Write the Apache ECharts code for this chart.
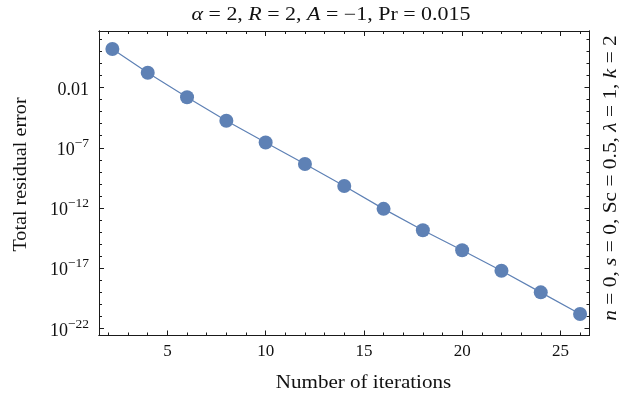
<!DOCTYPE html>
<html>
<head>
<meta charset="utf-8">
<script src="https://cdn.jsdelivr.net/npm/echarts@6/dist/echarts.min.js"></script>
<style>html,body{margin:0;padding:0;background:#fff}#c{width:628px;height:398px}</style>
</head>
<body>
<div id="c"></div>
<script>
// Data
const iterations = [2.2, 4, 6, 8, 10, 12, 14, 16, 18, 20, 22, 24, 26];
const residualError = [1.57e1, 1.66e-1, 1.55e-3, 1.74e-5, 2.75e-7, 4.47e-9, 6.76e-11, 8.5e-13, 1.41e-14, 3.09e-16, 6.3e-18, 1.0e-19, 1.58e-21];
const xTickValues = [5, 10, 15, 20, 25];
const xMinorTicks = [2,3,4,5,6,7,8,9,10,11,12,13,14,15,16,17,18,19,20,21,22,23,24,25,26];
const yTickExponents = [-22, -17, -12, -7, -2];
const yMinorExponents = [-22,-21,-20,-19,-18,-17,-16,-15,-14,-13,-12,-11,-10,-9,-8,-7,-6,-5,-4,-3,-2,-1,0,1,2];

const FONT = '"Liberation Serif", "DejaVu Serif", serif';
const COLOR = '#5e81b5';
const FRAME = '#1a1a1a';
const TXT = '#111';
const X_MIN = 1.52, X_MAX = 26.48;
const Y_MIN = -22.58, Y_MAX = 2.69;

const chart = echarts.init(document.getElementById('c'), null, {renderer: 'canvas'});

function yLabel(v) {
  const e = Math.round(v);
  if (e === -2) return '{b|0.01}';
  return '{b|10}{s|' + (e < 0 ? '\u2212' + (-e) : String(e)) + '}';
}

const lineStyle = {color: FRAME, width: 1};
function xAx(pos, custom, len, labels) {
  return {
    type: 'value', position: pos, min: X_MIN, max: X_MAX,
    axisLine: {show: true, onZero: false, lineStyle},
    splitLine: {show: false},
    axisTick: {show: true, inside: true, length: len, lineStyle, customValues: custom},
    axisLabel: labels ? {show: true, customValues: custom, margin: 8, fontFamily: FONT, fontSize: 17, color: TXT} : {show: false}
  };
}
function yAx(pos, custom, len, labels) {
  return {
    type: 'value', position: pos, min: Y_MIN, max: Y_MAX,
    axisLine: {show: true, onZero: false, lineStyle},
    splitLine: {show: false},
    axisTick: {show: true, inside: true, length: len, lineStyle, customValues: custom},
    axisLabel: labels ? {
      show: true, customValues: custom, margin: 10, formatter: yLabel,
      fontFamily: FONT, fontSize: 18, color: TXT,
      rich: {
        b: {fontFamily: FONT, fontSize: 18, color: TXT, lineHeight: 23, verticalAlign: 'bottom'},
        s: {fontFamily: FONT, fontSize: 13.5, color: TXT, verticalAlign: 'top', lineHeight: 13}
      }
    } : {show: false}
  };
}

const option = {
  animation: false,
  backgroundColor: '#fff',
  grid: {left: 99, right: 38.5, top: 31, bottom: 62.5, containLabel: false},
  xAxis: [
    xAx('bottom', xTickValues, 5, true),
    xAx('bottom', xMinorTicks, 3, false),
    xAx('top', xTickValues, 5, false),
    xAx('top', xMinorTicks, 3, false)
  ],
  yAxis: [
    yAx('left', yTickExponents, 5, true),
    yAx('left', yMinorExponents, 3, false),
    yAx('right', yTickExponents, 5, false),
    yAx('right', yMinorExponents, 3, false)
  ],
  series: [{
    type: 'line', xAxisIndex: 0, yAxisIndex: 0,
    data: iterations.map((x, i) => [x, Math.log10(residualError[i])]),
    symbol: 'circle', symbolSize: 14,
    itemStyle: {color: COLOR},
    lineStyle: {color: COLOR, width: 1.2},
    z: 3
  }],
  graphic: [
    {
      type: 'text', x: 331, y: 15, scaleX: 1.22,
      style: {
        text: '{i|\u03b1} = 2, {i|R} = 2, {i|A} = \u22121, Pr = 0.015',
        font: '18px ' + FONT, fill: TXT, align: 'center', verticalAlign: 'middle',
        rich: {i: {fontStyle: 'italic', fontFamily: FONT, fontSize: 18, fill: TXT}}
      }
    },
    {
      type: 'text', x: 363.5, y: 383, scaleX: 1.17,
      style: {text: 'Number of iterations', font: '18px ' + FONT, fill: TXT, align: 'center', verticalAlign: 'middle'}
    },
    {
      type: 'text', x: 21, y: 174.5, rotation: Math.PI / 2, scaleX: 1.12,
      style: {text: 'Total residual error', font: '18px ' + FONT, fill: TXT, align: 'center', verticalAlign: 'middle'}
    },
    {
      type: 'text', x: 611, y: 178, rotation: Math.PI / 2, scaleX: 1.19,
      style: {
        text: '{i|n} = 0, {i|s} = 0, Sc = 0.5, {i|\u03bb} = 1, {i|k} = 2',
        font: '18px ' + FONT, fill: TXT, align: 'center', verticalAlign: 'middle',
        rich: {i: {fontStyle: 'italic', fontFamily: FONT, fontSize: 18, fill: TXT}}
      }
    }
  ]
};
chart.setOption(option);
</script>
</body>
</html>
